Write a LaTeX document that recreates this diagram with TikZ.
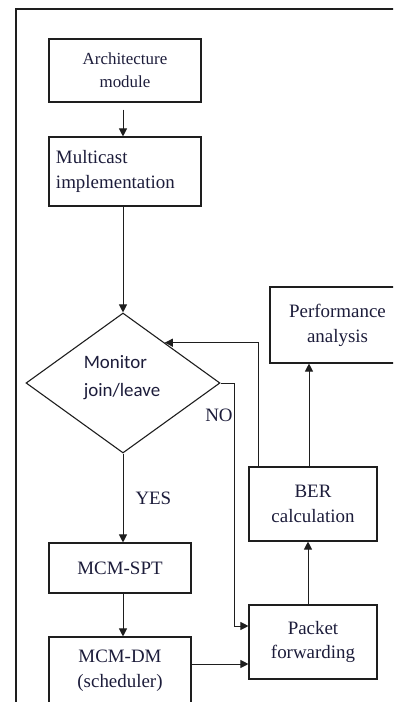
\documentclass[tikz,border=0pt]{standalone}
\usepackage{fontspec}
\newfontfamily\tnr{LiberationSerif-Regular.ttf}
\newfontfamily\calib{Carlito}
\usetikzlibrary{arrows.meta,shapes.geometric,calc}
\definecolor{txt}{HTML}{1C1C3A}
\definecolor{ln}{HTML}{1E1E1E}
\begin{document}
\begin{tikzpicture}[x=1bp,y=-1bp,
  box/.style={draw=ln,line width=1.1bp,rectangle,inner sep=0pt,text=txt,align=center,
    font=\tnr\fontsize{19}{25}\selectfont},
  arr/.style={draw=ln,line width=1bp,-{Triangle[length=8bp,width=8bp]}},
  lbl/.style={text=txt,inner sep=0pt,font=\tnr\fontsize{19}{25}\selectfont}]
\useasboundingbox (0,0) rectangle (393,702);
\clip (0,0) rectangle (393,702);
% frame
\draw[ln,line width=1.6bp] (16,720) -- (16,9) -- (400,9);
% nodes
\node[box,minimum width=152bp,minimum height=63bp,font=\tnr\fontsize{17}{23}\selectfont] (arch) at (125,70.5) {Architecture\\module};
\node[box,minimum width=152bp,minimum height=69bp,align=left,text width=138bp] (multi) at (125,171.5) {Multicast\\implementation};
\node[draw=ln,line width=1.1bp,diamond,minimum width=194bp,minimum height=140bp,inner sep=0pt] (dia) at (123,383) {};
\node[text=txt,align=left,inner sep=0pt,font=\calib\fontsize{19}{28}\selectfont] (diatext) at (122,378) {Monitor\\join/leave};
\node[box,minimum width=135bp,minimum height=76bp] (perf) at (337.5,325) {Performance\\analysis};
\node[box,minimum width=128bp,minimum height=74bp] (ber) at (313,504) {BER\\calculation};
\node[box,minimum width=128bp,minimum height=74bp] (packet) at (313,642) {Packet\\forwarding};
\node[box,minimum width=142bp,minimum height=50bp] (spt) at (120,568) {MCM-SPT};
\node[box,minimum width=142bp,minimum height=68bp] (dm) at (120,671) {MCM-DM\\(scheduler)};
% connectors
\draw[arr,shorten <=7bp] (arch.south -| dia.north) -- (multi.north -| dia.north);
\draw[arr] (multi.south -| dia.north) -- (dia.north);
\draw[arr] (dia.south) -- (spt.north -| dia.south) node[lbl,pos=0.5,anchor=west,xshift=12bp] (yes) {YES};
\draw[arr] (spt.south -| dia.south) -- (dm.north -| dia.south);
\draw[arr] ([yshift=7bp]dm.east) -- ([yshift=7bp]dm.east -| packet.west);
\coordinate (noturn) at (234,383);
\draw[arr] (dia.east) -- (noturn) |- ([yshift=16bp]packet.west);
\node[lbl,anchor=center] (no) at (219,415) {NO};
\draw[arr] ([xshift=-5bp]packet.north) -- ([xshift=-5bp]ber.south);
\draw[arr] ([xshift=-4bp]ber.north) -- ([xshift=-4bp]ber.north |- perf.south);
\draw[arr] ([xshift=-55bp]ber.north) |- ($(dia.north)!0.4286!(dia.east)$);
\end{tikzpicture}
\end{document}
